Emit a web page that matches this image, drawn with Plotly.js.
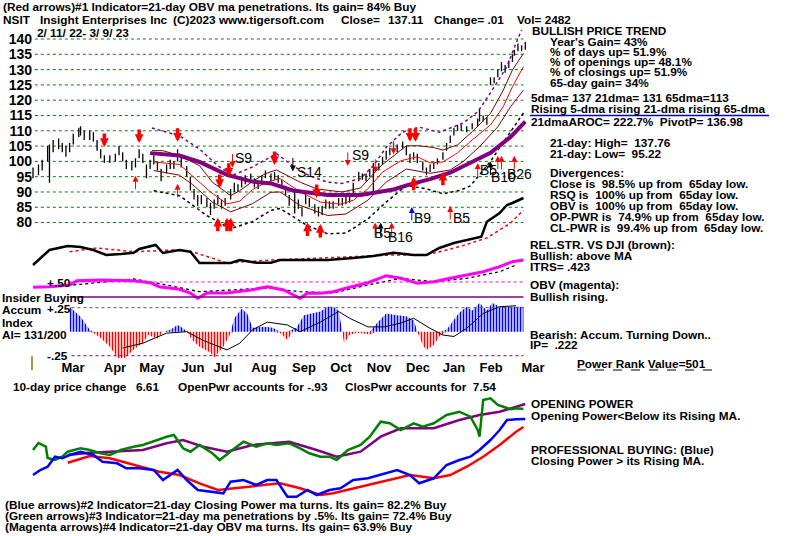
<!DOCTYPE html>
<html>
<head>
<meta charset="utf-8">
<script src="https://cdn.plot.ly/plotly-3.0.1.min.js"></script>
<style>body{margin:0;background:#fff}#chart{width:800px;height:536px}</style>
</head>
<body>
<div id="chart"></div>
<script>
// ---- price bars (day index from 2/11/22) ----
const px_day = [0,3,5,8,9,11,14,16,18,20,22,25,26,28,31,33,35,37,39,42,45,47,49,51,54,56,58,60,62,64,66,68,70,73,75,77,79,81,84,86,88,90,92,95,97,99,101,103,105,108,110,112,114,116,119,121,123,125,127,130,132,134,136,138,140,143,145,147,149,151,154,156,158,160,162,164,167,169,171,173,175,178,180,182,184,186,189,191,193,195,197,199,202,204,206,208,210,213,215,217,219,221,224,226,228,230,232,234,237,240,243,244,246,248,250,252,254,256,258,260,262,263,265,267,269];
const px_close = [96.5,97,99,104,104,105,106,104.5,103,104.5,107.5,109.5,110,108,108.5,108,104.5,102,100.5,100.5,101,103.5,101.5,98.5,98.5,99.5,102.5,100.5,96.5,99,100.5,98,95.5,97.5,99,98.5,101.5,99.5,96.5,92,88.5,87,87.5,86.5,85,86,87.5,85.5,86.5,89.5,91.5,91,92.5,94,94.5,92.5,92,94,95.5,94.5,95,94,92,90,86.5,85,86,83,87.5,86,84.5,83,84,86,85.5,85.5,86.5,86.5,87,87.5,91.5,95,95,94.5,96,97.5,98,100,102,103,104.5,104,105,103,100.5,101.5,101,98,96.5,97.5,98.5,100,102,105,107.5,109.5,111,111,110.5,111.5,113,116,114,113.5,126.5,126.5,129,131,130,132,134,135.8,137.5,137,137.11];
const px_high = [98,99,100.5,105,105.5,107,107.5,106,105,106,109,111,111.5,110,110,109.5,107,104,102,102,102.5,105,103,100.5,100,101,104,102.5,99,100.5,102,100,97.5,99,100.5,100,104,101.5,98.5,95,91,89,89,88,86.5,87.5,89,87.5,88,91,93,92.5,94,95.5,96,94.5,93.5,95.5,97,96,96.5,95.5,94,92,89,90,87.5,85,89,88,86,85,85.5,87.5,87,87,88,88,88.5,89,93,96.5,96,96,97.5,99.5,99.5,101.5,103.5,104.5,106,105.5,106.5,105,102.5,103,102.5,100,98,99,99.5,101,103,106,108.5,111,112,112,111.5,112.5,114,117,115,114.5,127.5,127.5,130,132.5,131.5,133,135,136.5,138.5,138,139];
const px_low = [94.5,95.5,97,100,93,103,104,103,101.5,103,105.5,108,108.5,107,107,106.5,103.5,101,99.5,99.5,100,102,100,97.5,97,98,101,99.5,94.5,97.5,99,97,93.5,96,97.5,97.5,100,98,95,90.5,87.5,85.5,86,85,82.5,84.5,86,84.5,85.5,87.5,90,90,91.5,92.5,93.5,91.5,91,92.5,94.5,93.5,94,93,91,89,85.5,83,84.5,82,86,85,83,82,82.5,84.5,84.5,84.5,85.5,85.5,86,86.5,89,93.5,94,93.5,95,89.5,97,99,100.5,102,103,103,104,102,99.5,100.5,99.5,97,95.5,96.5,97.5,99,100.5,103.5,106,108.5,110,110,109.5,110.5,111.5,113,113,112,125,125.5,127.5,129.5,129,130.5,132.5,134.5,136,136,136.5];
const y_ticks = [80,85,90,95,100,105,110,115,120,125,130,135,140];

// ---- moving averages and bands on price ----
const ma65_day = [64,80,91,106,120,130,142,161,179,197,206,217,228,239,250,261,269];
const ma65_val = [102.7,101.9,99.8,95.6,93.4,92.8,90.5,89,89,90.8,92.5,94.2,96.3,99.4,102.8,108,113];
const ma21_day = [66,80,87,97,106,113,120,127,135,146,157,168,175,183,191,201,210,217,224,232,240,250,257,262,268];
const ma21_val = [99.8,99,95.3,90,86.1,87,90.8,93,94.4,90,86.7,86,87.3,91,96.5,100.2,101.5,99.5,99.8,102.8,107,111.9,117.9,124.4,131];
const bandU_day = [65,71,80,91,98,108,113,120,127,133,146,155,169,179,190,204,211,219,224,232,240,250,257,262,268];
const bandU_val = [103.5,103.5,101.9,98.6,93.2,88.8,90.4,93.5,96,97.2,93.2,91,90,91.3,98.5,105.1,105.1,104.5,103.7,105.4,109.7,115.7,123.3,129.9,135.3];
const bandL_day = [66,80,87,98,108,120,130,135,146,161,171,183,193,204,217,228,235,244,254,261,268];
const bandL_val = [97,95.5,92.5,86.7,83.5,86.2,89.9,90,85.6,82.3,82.8,87.3,93.2,97.5,96.1,97.2,99.9,104.8,111.3,117.9,123.3];
const outU_day = [65,80,91,101,109,120,130,133,142,151,161,169,179,186,193,202,211,222,235,243,250,259,264,267];
const outU_val = [110.9,108.4,104,98.6,95.4,98.2,101.5,102.5,98.6,95.3,93.2,92.8,94.4,98.6,104.6,109.6,111.2,109.5,112.5,116.2,122.4,131,138.7,143];
const outL_day = [66,80,95,108,120,130,135,150,161,171,183,193,204,215,224,233,239,250,259,268];
const outL_val = [90.4,88.8,82.3,78,80.3,84,84.6,79,76.3,76.6,81.2,86.7,92.1,91,89.4,90.5,92,100,108,115.8];

// ---- signal arrows (day, price at arrow tip) ----
const sell_big_day = [39,58,79,102,107,132,155,206,209];
const sell_big_px = [104.7,106,106.4,91.3,95,98.8,88,106.4,106.4];
const buy_big_day = [101,106,108,150,157,208,224];
const buy_big_px = [81.6,81.6,81.6,80,79.5,95,96.6];
const buy_thin_day = [56,79,187,196,228,243,254,256,263];
const buy_thin_px = [95.3,92.7,80,80,85.4,99.5,101.8,101.8,101.8];
const sell_thin_day = [109,172,187,197];
const sell_thin_px = [98,98.5,96.3,102.3];
const blk_up_day = [190,250];
const blk_up_px = [80,100];
const blk_dn_day = [142];
const blk_dn_px = [96.7];
const blue_up_day = [207];
const blue_up_px = [85.1];
const sig_text = ['S9','S14','S9','B9','B5','B5','B16','B5','B10','B26'];
const sig_day = [115,151,179,213,234,191,201,249,257,266];
const sig_px = [101,96.5,102,81.5,81.5,76.5,75.3,97.3,95,95.8];

// ---- relative strength vs DJI (black) and its MA ----
const rs_day = [0,9,19,26,33,40,48,55,58,67,71,80,86,91,98,108,113,122,130,135,146,161,175,186,197,208,215,222,230,237,245,248,251,255,259,262,268];
const rs_val = [5,20,24,23,20,15,16,17.3,21,25,17,20,18.3,7,7,7,10,7.3,7.3,10,10,10,12,14,17.3,15,15,22,27,30,33.3,48.3,52,57,65,67,72];
const rsma_day = [20,35,55,77,87,106,130,161,197,215,233,248,261,268];
const rsma_val = [18.3,22,18.3,20,18.3,7,10,12,15,15,23.3,32,47,60];

// ---- OBV (magenta) and MA ----
const obv_day = [0,9,20,24,37,55,64,69,80,86,90,95,106,119,128,137,146,150,157,164,173,183,193,201,210,219,228,237,246,255,262,268];
const obv_val = [12.7,13.3,15,19.3,20,19.3,17.3,13.3,10.7,7,1.7,7,7,10,13.3,10,1.7,7,6.7,8.3,12.7,17.3,24.3,21.7,16.7,18.3,21.7,25,28.3,33.3,38.3,40];
const obvma_day = [22,55,73,91,128,146,164,183,201,219,237,255,264];
const obvma_val = [15,21,15,8.3,12,8.3,7,15,21.7,18.3,21.7,28.3,35];

// ---- accumulation index ----
const ai_day = [20,26,31,33,37,42,46,49,53,57,60,63,68,71,75,79,81,84,87,91,97,99,104,108,110,114,117,120,124,128,131,135,139,142,144,148,153,157,161,164,167,169,170,173,177,180,184,188,193,199,204,208,210,213,215,219,222,226,230,233,237,240,244,248,251,255,261,264,268];
const ai_val = [.26,.156,.02,-.014,-.066,-.156,-.27,-.29,-.22,-.156,-.12,-.035,-.07,0,.02,.07,.05,.005,-.086,-.156,-.22,-.27,-.156,-.017,.14,.24,.19,.04,.05,.05,.04,-.014,-.086,.02,.04,.17,.19,.21,.26,.26,.22,0,-.12,-.035,-.01,-.02,-.03,.09,.19,.17,.16,.12,.005,-.14,-.19,-.14,-.05,.02,.12,.2,.26,.22,.3,.22,.3,.26,.26,.26,.26];
const aima_day = [49,60,73,84,93,106,113,120,128,139,146,157,167,173,183,192,201,208,217,224,230,237,246,255,264];
const aima_val = [-.17,-.12,-.015,0,-.09,-.19,-.12,.02,.1,.07,0,.1,.21,.14,.05,.05,.09,.14,.035,-.035,-.05,.035,.19,.26,.27];

// ---- opening power (green) / closing power (blue) ----
const op_day = [0,3,7,8,12,16,19,26,31,37,42,48,55,60,68,73,77,82,86,91,98,102,109,115,122,128,133,140,146,151,157,162,166,172,179,184,190,195,201,208,213,219,226,233,239,243,244,246,250,254,257,261,264,268];
const op_val = [55,62,58.3,47,45,48.3,53.3,56.7,55,51.7,50,55,58.3,60,65,68.3,70,56.7,53.3,60,51.7,45,55,63.3,58.3,61.7,60,61.7,56.7,51.7,48.3,48.3,45,55,60,68.3,83.3,81.7,75,81.7,78.3,81.7,90,93.3,88.3,75,68.3,105,106.7,100,98.3,95.7,96.7,96];
const opma_day = [19,31,42,60,73,82,93,106,120,140,155,166,179,190,201,219,233,244,255,264,269];
const opma_val = [50,52.3,53.3,55,61.7,65,58.3,53.3,60,63.3,55,48.3,53.3,68.3,76.7,76.7,85,90,93.3,98.3,101];
const cp_day = [0,4,8,12,16,20,26,33,38,46,51,58,66,71,79,84,90,97,104,108,115,122,128,133,139,144,150,155,162,168,175,183,190,199,206,211,219,226,233,239,244,250,255,259,264,269];
const cp_val = [30,35,38.3,48.3,46.7,50,53.3,50,43.3,41.7,36.7,36.7,35,25,35,25,15,13.3,11.7,23.3,25,20,25,25,8.3,8.3,15,10,15,16.7,25,26.7,30,35,30,21.7,26.7,40,45,48.3,55,65,75,85,85.7,86];
const cpma_day = [19,31,42,55,69,80,91,101,109,124,135,146,157,164,179,193,206,219,228,237,246,255,264,268];
const cpma_val = [42.3,49,46.7,40,33.3,30,21.7,15,16.7,20,21.7,16.7,10,11.7,18.3,25,30,26.7,30,38.3,48.3,60,73.3,78];

// ---- month labels ----
const month_pos = [21.9,44.8,65,87.4,103.8,126.2,148.1,168.3,189.1,210.4,230,250.3,273.2];
const month_txt = ['Mar','Apr','May','Jun','Jul','Aug','Sep','Oct','Nov','Dec','Jan','Feb','Mar'];

const F = 'Liberation Sans, Arial, sans-serif';
const FS = 11.8;
const PX_PER_DAY = 1.83, X0 = 33;
const W = 800, H = 536;
const dom = (top, bot) => [1 - bot / H, 1 - top / H];

function line(x, y, color, width, dash, yaxis) {
    return {x: x, y: y, type: 'scatter', mode: 'lines', yaxis: yaxis || 'y',
        line: {color: color, width: width, dash: dash || 'solid'}, hoverinfo: 'skip'};
}

let traces = [];
traces.push({type: 'ohlc', x: px_day, open: px_close, high: px_high, low: px_low, close: px_close,
    increasing: {line: {color: 'black', width: 1.3}}, decreasing: {line: {color: 'black', width: 1.3}},
    tickwidth: 0.35, hoverinfo: 'skip'});
traces.push(line(outU_day, outU_val, '#800080', 1.5, 'dot'));
traces.push(line(outL_day, outL_val, 'black', 1.5, 'dot'));
traces.push(line(bandU_day, bandU_val, '#800000', 1));
traces.push(line(bandL_day, bandL_val, '#800000', 1));
traces.push(line(ma21_day, ma21_val, 'red', 1));
traces.push(line(ma65_day, ma65_val, '#800080', 4));

traces.push(line(rsma_day, rsma_val, 'red', 1.5, 'dot', 'y2'));
traces.push(line(rs_day, rs_val, 'black', 2.5, 'solid', 'y2'));

traces.push(line(obvma_day, obvma_val, 'black', 1.3, 'dot', 'y3'));
traces.push(line(obv_day, obv_val, '#ff00ff', 3, 'solid', 'y3'));

const ai_pos = ai_val.map(v => v > 0 ? v : 0);
const ai_neg = ai_val.map(v => v < 0 ? v : 0);
traces.push({x: ai_day, y: ai_pos, yaxis: 'y4', type: 'scatter', mode: 'lines', fill: 'tozeroy',
    line: {width: 0, color: 'blue'}, fillcolor: 'rgba(0,0,0,0)',
    fillpattern: {shape: '|', fgcolor: '#0000ff', bgcolor: 'white', size: 3, solidity: 0.55}, hoverinfo: 'skip'});
traces.push({x: ai_day, y: ai_neg, yaxis: 'y4', type: 'scatter', mode: 'lines', fill: 'tozeroy',
    line: {width: 0, color: 'red'}, fillcolor: 'rgba(0,0,0,0)',
    fillpattern: {shape: '|', fgcolor: '#ff0000', bgcolor: 'white', size: 3, solidity: 0.5}, hoverinfo: 'skip'});
traces.push(line(aima_day, aima_val, 'black', 1, 'solid', 'y4'));

traces.push(line(opma_day, opma_val, '#800080', 2.5, 'solid', 'y5'));
traces.push(line(op_day, op_val, '#008000', 2.5, 'solid', 'y5'));
traces.push(line(cpma_day, cpma_val, 'red', 2.5, 'solid', 'y5'));
traces.push(line(cp_day, cp_val, '#0000ff', 2.5, 'solid', 'y5'));

// ---- shapes ----
let shapes = [];
for (const v of y_ticks) {
    shapes.push({type: 'line', xref: 'x', yref: 'y', x0: 1, x1: 268, y0: v, y1: v,
        line: {color: '#008000', width: 1, dash: 'dot'}, layer: 'below'});
}
shapes.push({type: 'line', xref: 'x', yref: 'y3', x0: 20, x1: 268, y0: 18, y1: 18, line: {color: '#ff00ff', width: 1, dash: 'dot'}});
shapes.push({type: 'line', xref: 'x', yref: 'y3', x0: 20, x1: 268, y0: 3, y1: 3, line: {color: '#800080', width: 1.3}});
shapes.push({type: 'line', xref: 'x', yref: 'y4', x0: 21, x1: 268, y0: 0.25, y1: 0.25, line: {color: '#555', width: 1, dash: 'dot'}});
shapes.push({type: 'line', xref: 'x', yref: 'y4', x0: 21, x1: 268, y0: -0.25, y1: -0.25, line: {color: '#800080', width: 1, dash: 'dot'}});
shapes.push({type: 'line', xref: 'paper', yref: 'paper', x0: 530 / W, x1: 769 / W, y0: 1 - 115.5 / H, y1: 1 - 115.5 / H, line: {color: '#0000c0', width: 1.5}});
shapes.push({type: 'line', xref: 'paper', yref: 'paper', x0: 577 / W, x1: 718 / W, y0: 1 - 370 / H, y1: 1 - 370 / H, line: {color: 'black', width: 1, dash: 'dash'}});
shapes.push({type: 'line', xref: 'paper', yref: 'paper', x0: 32 / W, x1: 32 / W, y0: 1 - 356 / H, y1: 1 - 370 / H, line: {color: '#8b7500', width: 1.5}});

// ---- annotations ----
let ann = [];
function txt(s, x, y, size, extra) {
    ann.push(Object.assign({text: s, xref: 'paper', yref: 'paper', x: x / W, y: 1 - y / H,
        xanchor: 'left', yanchor: 'middle', showarrow: false, borderpad: 0,
        font: {family: F, size: size || FS, color: 'black', weight: 'bold'}}, extra || {}));
}
function arrows(days, prices, up, color, width) {
    days.forEach((d, i) => ann.push({x: d, y: prices[i], xref: 'x', yref: 'y', text: '',
        showarrow: true, arrowhead: 2, arrowsize: width > 2 ? 0.5 : 1.2, arrowwidth: width,
        arrowcolor: color, ax: 0, ay: up ? 15 : -15}));
}
arrows(sell_big_day, sell_big_px, false, 'red', 3.5);
arrows(buy_big_day, buy_big_px, true, 'red', 3.5);
arrows(buy_thin_day, buy_thin_px, true, 'red', 1);
arrows(sell_thin_day, sell_thin_px, false, 'red', 1);
arrows(blk_up_day, blk_up_px, true, 'black', 1);
arrows(blk_dn_day, blk_dn_px, false, 'black', 1);
arrows(blue_up_day, blue_up_px, true, 'blue', 1);
sig_text.forEach((t, i) => ann.push({x: sig_day[i], y: sig_px[i], xref: 'x', yref: 'y', text: t,
    showarrow: false, borderpad: 0, font: {family: F, size: 14, color: 'black'}}));

txt('(Red arrows)#1 Indicator=21-day OBV ma penetrations. Its gain= 84% Buy', 2, 7);
txt('NSIT', 2, 20);
txt('Insight Enterprises Inc', 39, 20);
txt('(C)2023 www.tigersoft.com', 172, 20);
txt('Close=', 340, 20);
txt('137.11', 387, 20);
txt('Change= .01', 433, 20);
txt('Vol= 2482', 516, 20);
txt('2/ 11/ 22- 3/ 9/ 23', 36, 33);

txt('BULLISH PRICE TREND', 531, 31);
txt("Year's Gain= 43%", 549, 42);
txt('% of days up= 51.9%', 549, 52);
txt('% of openings up= 48.1%', 549, 62);
txt('% of closings up= 51.9%', 549, 72.5);
txt('65-day gain= 34%', 549, 83);
txt('5dma= 137 21dma= 131 65dma=113', 530, 98);
txt('Rising 5-dma rising 21-dma rising 65-dma', 530, 109);
txt('21dmaAROC= 222.7%  PivotP= 136.98', 530, 122);
txt('21-day: High=  137.76', 549, 143);
txt('21-day: Low=  95.22', 549, 154);
txt('Divergences:', 549, 173);
txt('Close is  98.5% up from  65day low.', 549, 184);
txt('RSQ is  100% up from  65day low.', 549, 195);
txt('OBV is  100% up from  65day low.', 549, 206);
txt('OP-PWR is  74.9% up from  65day low.', 549, 217);
txt('CL-PWR is  99.4% up from  65day low.', 549, 228);
txt('REL.STR. VS DJI (brown):', 529, 245);
txt('Bullish: above MA', 529, 256);
txt('ITRS= .423', 529, 267);
txt('OBV (magenta):', 529, 285);
txt('Bullish rising.', 529, 297);
txt('Bearish: Accum. Turning Down..', 529, 335);
txt('IP=  .222', 529, 345);
txt('Power Rank Value=501', 576, 364);

txt('+.50', 46, 283);
txt('Insider Buying', 1, 298);
txt('Accum', 1, 310);
txt('+.25', 46, 309);
txt('Index', 1, 323);
txt('AI= 131/200', 1, 335);
txt('-.25', 46, 356);

txt('10-day price change', 12, 387);
txt('6.61', 135, 387);
txt('OpenPwr accounts for -.93', 177, 387);
txt('ClosPwr accounts for  7.54', 344, 387);

txt('OPENING POWER', 530, 404);
txt('Opening Power<Below its Rising MA.', 530, 416);
txt('PROFESSIONAL BUYING: (Blue)', 530, 450);
txt('Closing Power > its Rising MA.', 530, 461);

txt('(Blue arrows)#2 Indicator=21-day Closing Power ma turns. Its gain= 82.2% Buy', 4, 505);
txt('(Green arrows)#3 Indicator=21-day ma penetrations by .5%. Its gain= 72.4% Buy', 4, 516);
txt('(Magenta arrows)#4 Indicator=21-day OBV ma turns. Its gain= 63.9% Buy', 4, 527);

const hidden = {showgrid: false, zeroline: false, showticklabels: false, ticks: '', showline: false, fixedrange: true};

const layout = {
    width: W, height: H,
    margin: {l: 0, r: 0, t: 0, b: 0},
    paper_bgcolor: 'white', plot_bgcolor: 'rgba(0,0,0,0)',
    showlegend: false,
    font: {family: F, color: 'black'},
    xaxis: {domain: [0, 1], range: [-X0 / PX_PER_DAY, (W - X0) / PX_PER_DAY], anchor: 'y4',
        showgrid: false, zeroline: false, showline: false, ticks: '',
        tickvals: month_pos, ticktext: month_txt,
        tickfont: {family: F, size: 13, weight: 'bold', color: 'black'},
        rangeslider: {visible: false}},
    yaxis: {domain: dom(28, 240), range: [74.3, 143.6], anchor: 'free', position: 0.04,
        showgrid: false, zeroline: false, showline: false, ticks: '',
        tickvals: y_ticks, ticktext: y_ticks.map(String),
        tickfont: {family: F, size: 14, weight: 'bold', color: 'black'}},
    yaxis2: Object.assign({domain: dom(190, 270), range: [0, 80], anchor: 'x'}, hidden),
    yaxis3: Object.assign({domain: dom(255, 300), range: [0, 45], anchor: 'x'}, hidden),
    yaxis4: Object.assign({domain: dom(300, 358), range: [-0.274, 0.33], anchor: 'x'}, hidden),
    yaxis5: Object.assign({domain: dom(395, 505), range: [0, 110], anchor: 'x'}, hidden),
    shapes: shapes,
    annotations: ann
};

Plotly.newPlot('chart', traces, layout, {staticPlot: true});
</script>
</body>
</html>
